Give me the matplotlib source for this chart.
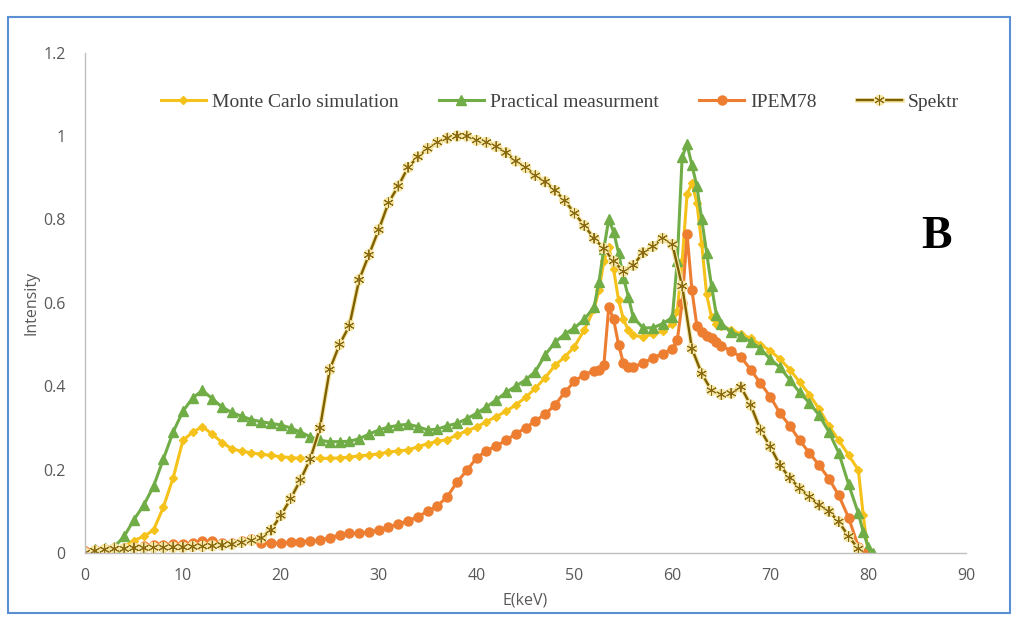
import numpy as np
import matplotlib
matplotlib.use("Agg")
import matplotlib.pyplot as plt
import matplotlib.patheffects as pe
from matplotlib.patches import Rectangle

# energy grid shared by the three measured / simulated spectra (keV)
energy = list(range(0, 53)) + [52.5, 53, 53.5, 54, 54.5, 55, 55.5, 56,
                               57, 58, 59, 60,
                               60.5, 61, 61.5, 62, 62.5, 63, 63.5, 64, 64.5, 65,
                               66, 67, 68, 69, 70, 71, 72, 73, 74, 75, 76, 77, 78, 79,
                               79.5, 80, 80.5]

monte_carlo = [0.005, 0.01, 0.01, 0.012, 0.015, 0.03, 0.04, 0.055, 0.11, 0.18,
               0.27, 0.29, 0.303, 0.285, 0.265, 0.25, 0.244, 0.24, 0.237, 0.234,
               0.231, 0.229, 0.227, 0.227, 0.227, 0.227, 0.228, 0.23, 0.233, 0.235,
               0.238, 0.242, 0.245, 0.247, 0.255, 0.262, 0.268, 0.272, 0.283, 0.293,
               0.302, 0.315, 0.327, 0.34, 0.355, 0.373, 0.395, 0.42, 0.45, 0.47,
               0.495, 0.535, 0.585,
               0.63, 0.70, 0.735, 0.68, 0.607, 0.56, 0.535, 0.522,
               0.518, 0.525, 0.532, 0.55,
               0.58, 0.70, 0.86, 0.887, 0.84, 0.74, 0.62, 0.565, 0.55, 0.545,
               0.535, 0.525, 0.515, 0.50, 0.485, 0.465, 0.44, 0.41, 0.38, 0.345,
               0.305, 0.27, 0.235, 0.199,
               0.09, 0.0, np.nan]

practical = [0.005, 0.01, 0.012, 0.015, 0.04, 0.08, 0.115, 0.16, 0.225, 0.29,
             0.34, 0.372, 0.39, 0.37, 0.35, 0.337, 0.328, 0.32, 0.315, 0.311,
             0.307, 0.30, 0.29, 0.279, 0.27, 0.267, 0.267, 0.268, 0.274, 0.285,
             0.295, 0.302, 0.306, 0.309, 0.303, 0.295, 0.297, 0.305, 0.311, 0.322,
             0.335, 0.35, 0.367, 0.385, 0.40, 0.415, 0.435, 0.475, 0.505, 0.525,
             0.54, 0.56, 0.59,
             0.65, 0.73, 0.80, 0.77, 0.72, 0.66, 0.615, 0.565,
             0.54, 0.54, 0.55, 0.565,
             0.70, 0.95, 0.98, 0.93, 0.88, 0.80, 0.72, 0.64, 0.57, 0.55,
             0.53, 0.52, 0.507, 0.49, 0.465, 0.445, 0.415, 0.385, 0.36, 0.33,
             0.29, 0.24, 0.165, 0.095,
             0.05, 0.015, 0.0]

ipem78 = [0.005, 0.008, 0.01, 0.012, 0.012, 0.015, 0.018, 0.02, 0.02, 0.022,
          0.022, 0.025, 0.03, 0.028, 0.024, 0.025, 0.03, 0.033, 0.025, 0.023,
          0.023, 0.026, 0.027, 0.029, 0.031, 0.037, 0.043, 0.047, 0.047, 0.05,
          0.055, 0.062, 0.07, 0.077, 0.087, 0.10, 0.113, 0.135, 0.17, 0.198,
          0.228, 0.245, 0.257, 0.27, 0.286, 0.30, 0.317, 0.333, 0.355, 0.385,
          0.412, 0.428, 0.437,
          0.44, 0.45, 0.59, 0.56, 0.50, 0.455, 0.447, 0.447,
          0.455, 0.468, 0.478, 0.49,
          0.51, 0.60, 0.765, 0.63, 0.545, 0.53, 0.52, 0.515, 0.505, 0.497,
          0.485, 0.47, 0.44, 0.407, 0.375, 0.335, 0.305, 0.27, 0.24, 0.21,
          0.178, 0.138, 0.085, 0.015,
          0.0, np.nan, np.nan]

# Spektr spectrum on its own 1 keV grid
energy_spektr = list(range(0, 80))
spektr = [0.0, 0.005, 0.008, 0.01, 0.01, 0.012, 0.012, 0.013, 0.013, 0.014,
          0.014, 0.015, 0.016, 0.017, 0.019, 0.021, 0.025, 0.03, 0.036, 0.055,
          0.09, 0.13, 0.175, 0.225, 0.30, 0.44, 0.50, 0.545, 0.655, 0.715,
          0.775, 0.84, 0.88, 0.925, 0.95, 0.97, 0.985, 0.995, 1.0, 1.0,
          0.99, 0.985, 0.975, 0.96, 0.94, 0.925, 0.905, 0.89, 0.87, 0.845,
          0.815, 0.785, 0.755, 0.73, 0.70, 0.675, 0.69, 0.72, 0.735, 0.755,
          0.74, 0.64, 0.49, 0.43, 0.39, 0.38, 0.383, 0.398, 0.355, 0.295,
          0.255, 0.21, 0.18, 0.155, 0.135, 0.115, 0.10, 0.075, 0.04, 0.01]

labels = ["Monte Carlo simulation", "Practical measurment", "IPEM78", "Spektr"]
x_ticks = list(range(0, 100, 10))
y_ticks = [0, 0.2, 0.4, 0.6, 0.8, 1, 1.2]
y_ticklabels = ["0", "0.2", "0.4", "0.6", "0.8", "1", "1.2"]

#----------------------------------------------------------------#

fig = plt.figure(figsize=(10.17, 6.19), dpi=100)
ax = fig.add_axes([0.0836, 0.1066, 0.8663, 0.8084])

grey = "#595959"
ax.plot(energy, monte_carlo, color="#F5C21B", lw=2.2, marker="D", ms=4.5,
        label=labels[0])
ax.plot(energy, practical, color="#70AD47", lw=2.2, marker="^", ms=6.5,
        label=labels[1])
ax.plot(energy, ipem78, color="#ED7D31", lw=2.2, marker="o", ms=6.5,
        label=labels[2])
ax.plot(energy_spektr, spektr, color="#7F6000", lw=1.7, marker=(6, 2, 0),
        ms=7.5, mew=0.7, mec="#8A6A10", label=labels[3],
        path_effects=[pe.Stroke(linewidth=3.4, foreground="#F5E7A8"), pe.Normal()])

ax.set_xlim(0, 90)
ax.set_ylim(0, 1.2)
ax.set_xticks(x_ticks)
ax.set_yticks(y_ticks)
ax.set_yticklabels(y_ticklabels)
ax.tick_params(length=0, labelsize=11.5, colors=grey)
ax.tick_params(axis="y", pad=14)
ax.tick_params(axis="x", pad=11)
for lab in ax.get_xticklabels() + ax.get_yticklabels():
    lab.set_family("Open Sans")

for side in ["top", "right"]:
    ax.spines[side].set_visible(False)
for side in ["left", "bottom"]:
    ax.spines[side].set_color("#BFBFBF")
    ax.spines[side].set_linewidth(1.0)

ax.set_xlabel("E(keV)", family="Open Sans", fontsize=11.5, color=grey, labelpad=6)
ax.set_ylabel("Intensity", family="Open Sans", fontsize=11.5, color=grey, labelpad=3)

leg = ax.legend(loc="center", bbox_to_anchor=(0.539, 0.901), ncol=4, frameon=False,
                prop={"family": "Liberation Serif", "size": 14},
                handlelength=2.3, handletextpad=0.3, columnspacing=2.1)
for txt in leg.get_texts():
    txt.set_color("#404040")

ax.text(0.967, 0.632, "B", transform=ax.transAxes, ha="center", va="center",
        family="Liberation Serif", fontweight="bold", fontsize=33)

# outer frame of the picture
fig.patches.append(Rectangle((0.008, 0.01), 0.985, 0.962, transform=fig.transFigure,
                             fill=False, edgecolor="#5B8FD3", lw=1.5))

fig.savefig("out.png", dpi=100)
